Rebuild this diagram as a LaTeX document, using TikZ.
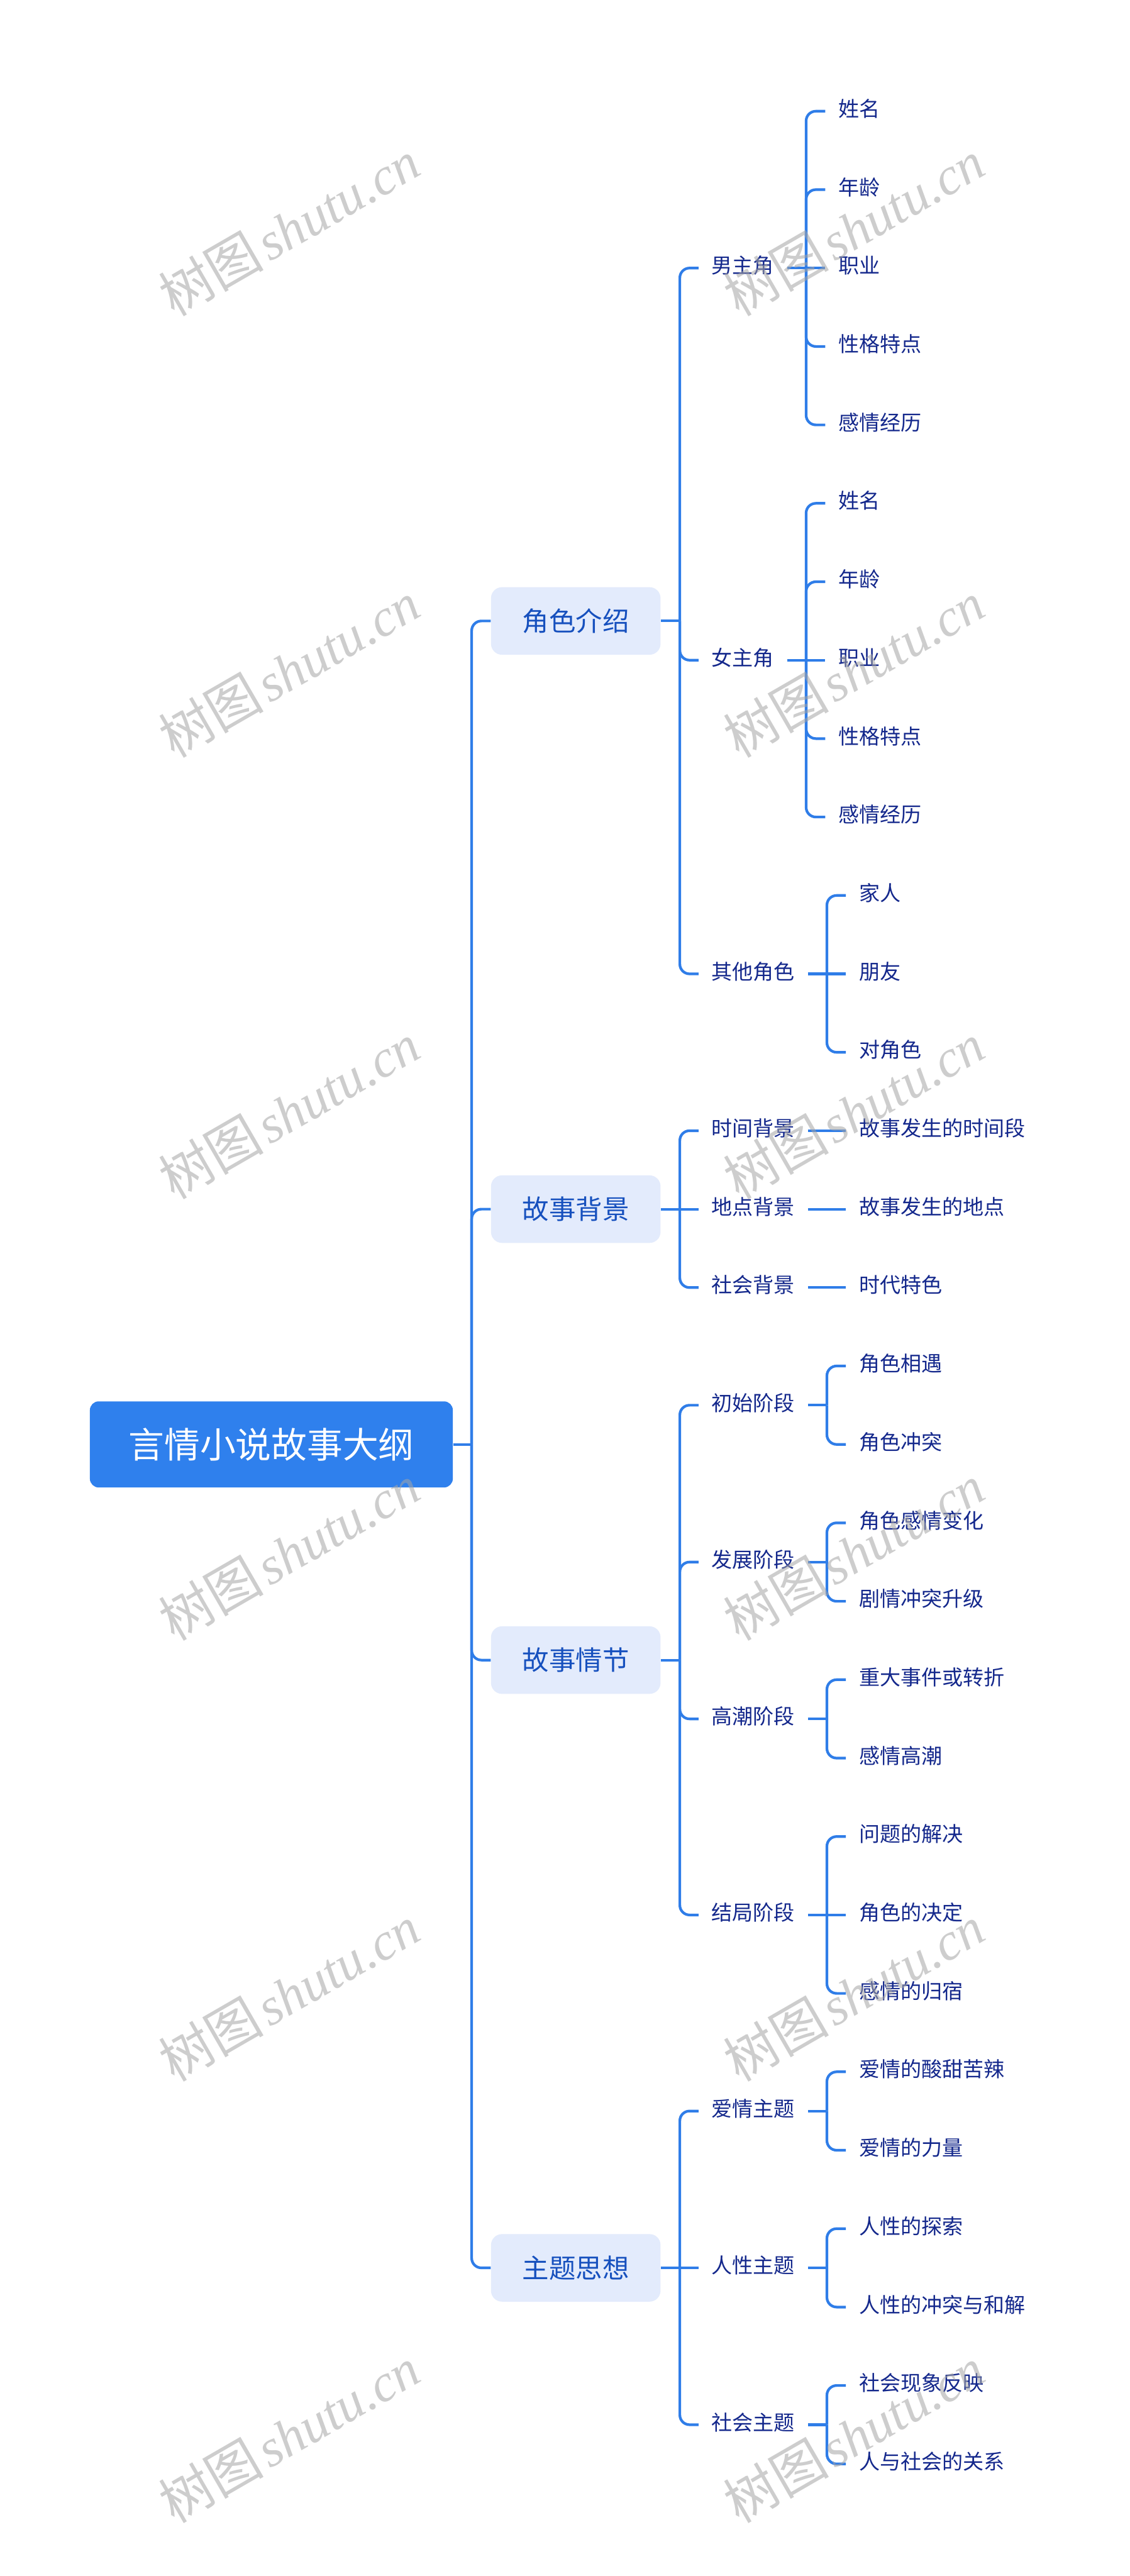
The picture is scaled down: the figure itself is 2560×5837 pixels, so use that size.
\documentclass[tikz,border=0pt]{standalone}
\usepackage{fontspec}
\newfontfamily\cjk{Noto Sans CJK SC}
\newfontfamily\wmlatin{Liberation Serif}
\definecolor{linec}{RGB}{47,125,232}
\definecolor{rootfill}{RGB}{47,128,237}
\definecolor{lonefill}{RGB}{227,235,252}
\definecolor{lonetext}{RGB}{22,80,190}
\definecolor{leaftext}{RGB}{20,40,140}
\definecolor{wmc}{RGB}{165,165,165}
\tikzset{
  conn/.style={draw=linec, line width=0.06cm, rounded corners=0.22cm},
  rootbox/.style={fill=rootfill, rounded corners=0.2cm, minimum width=8.22cm, minimum height=1.95cm,
    text=white, font=\cjk\fontsize{23}{23}\selectfont, anchor=west, inner sep=0pt},
  lonebox/.style={fill=lonefill, rounded corners=0.25cm, minimum width=3.84cm, minimum height=1.53cm,
    text=lonetext, font=\cjk\fontsize{17.2}{17.2}\selectfont, anchor=west, inner sep=0pt},
  txt/.style={text=leaftext, font=\cjk\fontsize{13.4}{13.4}\selectfont, inner xsep=0.29cm, inner ysep=0pt,
    text height=0.85em, text depth=0.15em, anchor=west},
  wm/.style={rotate=30, text=wmc, text opacity=0.55, inner sep=0pt}
}
\newcommand{\wmtext}{{\cjk\fontsize{34}{34}\selectfont 树图} {\wmlatin\itshape\fontsize{34}{34}\selectfont shutu.cn}}
\begin{document}
\begin{tikzpicture}[x=0.01cm,y=-0.01cm]
\useasboundingbox (0,0) rectangle (2560,5837);
\fill[white] (0,0) rectangle (2560,5837);

% root and level 1
\node[rootbox] (root) at (203,3272.9) {言情小说故事大纲};
\node[lonebox] (a) at (1112,1407.05) {角色介绍};
\node[lonebox] (b) at (1112,2739.8) {故事背景};
\node[lonebox] (c) at (1112,3761.6) {故事情节};
\node[lonebox] (d) at (1112,5138.75) {主题思想};

% level 2
\node[txt] (a1) at (1583,607.4) {男主角};
\node[txt] (a2) at (1583,1495.9) {女主角};
\node[txt] (a3) at (1583,2206.7) {其他角色};
\node[txt] (b1) at (1583,2562.1) {时间背景};
\node[txt] (b2) at (1583,2739.8) {地点背景};
\node[txt] (b3) at (1583,2917.5) {社会背景};
\node[txt] (c1) at (1583,3184.05) {初始阶段};
\node[txt] (c2) at (1583,3539.45) {发展阶段};
\node[txt] (c3) at (1583,3894.85) {高潮阶段};
\node[txt] (c4) at (1583,4339.1) {结局阶段};
\node[txt] (d1) at (1583,4783.35) {爱情主题};
\node[txt] (d2) at (1583,5138.75) {人性主题};
\node[txt] (d3) at (1583,5494.15) {社会主题};

% leaves
\node[txt] (a1x1) at (1870,252) {姓名};
\node[txt] (a1x2) at (1870,429.7) {年龄};
\node[txt] (a1x3) at (1870,607.4) {职业};
\node[txt] (a1x4) at (1870,785.1) {性格特点};
\node[txt] (a1x5) at (1870,962.8) {感情经历};
\node[txt] (a2x1) at (1870,1140.5) {姓名};
\node[txt] (a2x2) at (1870,1318.2) {年龄};
\node[txt] (a2x3) at (1870,1495.9) {职业};
\node[txt] (a2x4) at (1870,1673.6) {性格特点};
\node[txt] (a2x5) at (1870,1851.3) {感情经历};
\node[txt] (a3x1) at (1917,2029) {家人};
\node[txt] (a3x2) at (1917,2206.7) {朋友};
\node[txt] (a3x3) at (1917,2384.4) {对角色};
\node[txt] (b1x1) at (1917,2562.1) {故事发生的时间段};
\node[txt] (b2x1) at (1917,2739.8) {故事发生的地点};
\node[txt] (b3x1) at (1917,2917.5) {时代特色};
\node[txt] (c1x1) at (1917,3095.2) {角色相遇};
\node[txt] (c1x2) at (1917,3272.9) {角色冲突};
\node[txt] (c2x1) at (1917,3450.6) {角色感情变化};
\node[txt] (c2x2) at (1917,3628.3) {剧情冲突升级};
\node[txt] (c3x1) at (1917,3806) {重大事件或转折};
\node[txt] (c3x2) at (1917,3983.7) {感情高潮};
\node[txt] (c4x1) at (1917,4161.4) {问题的解决};
\node[txt] (c4x2) at (1917,4339.1) {角色的决定};
\node[txt] (c4x3) at (1917,4516.8) {感情的归宿};
\node[txt] (d1x1) at (1917,4694.5) {爱情的酸甜苦辣};
\node[txt] (d1x2) at (1917,4872.2) {爱情的力量};
\node[txt] (d2x1) at (1917,5049.9) {人性的探索};
\node[txt] (d2x2) at (1917,5227.6) {人性的冲突与和解};
\node[txt] (d3x1) at (1917,5405.3) {社会现象反映};
\node[txt] (d3x2) at (1917,5583) {人与社会的关系};

% connectors: root -> level 1
\draw[conn] (root.east) -- ++(42,0) coordinate (rootb);
\foreach \n in {a,b,c,d} \draw[conn] (rootb) |- (\n.west);

% level 1 -> level 2
\draw[conn] (a.east) -- ++(43,0) coordinate (ab);
\foreach \n in {a1,a2,a3} \draw[conn] (ab) |- (\n.west);
\draw[conn] (b.east) -- ++(43,0) coordinate (bb);
\foreach \n in {b1,b3} \draw[conn] (bb) |- (\n.west);
\draw[conn] (bb) -- (b2.west);
\draw[conn] (c.east) -- ++(43,0) coordinate (cb);
\foreach \n in {c1,c2,c3,c4} \draw[conn] (cb) |- (\n.west);
\draw[conn] (d.east) -- ++(43,0) coordinate (db);
\foreach \n in {d1,d3} \draw[conn] (db) |- (\n.west);
\draw[conn] (db) -- (d2.west);

% level 2 -> leaves
\draw[conn] (a1.east) -- ++(43,0) coordinate (a1b);
\foreach \n in {a1x1,a1x2,a1x4,a1x5} \draw[conn] (a1b) |- (\n.west);
\draw[conn] (a1b) -- (a1x3.west);
\draw[conn] (a2.east) -- ++(43,0) coordinate (a2b);
\foreach \n in {a2x1,a2x2,a2x4,a2x5} \draw[conn] (a2b) |- (\n.west);
\draw[conn] (a2b) -- (a2x3.west);
\draw[conn] (a3.east) -- ++(43,0) coordinate (a3b);
\foreach \n in {a3x1,a3x3} \draw[conn] (a3b) |- (\n.west);
\draw[conn] (a3b) -- (a3x2.west);
\draw[conn] (b1.east) -- (b1x1.west);
\draw[conn] (b2.east) -- (b2x1.west);
\draw[conn] (b3.east) -- (b3x1.west);
\draw[conn] (c1.east) -- ++(43,0) coordinate (c1b);
\foreach \n in {c1x1,c1x2} \draw[conn] (c1b) |- (\n.west);
\draw[conn] (c2.east) -- ++(43,0) coordinate (c2b);
\foreach \n in {c2x1,c2x2} \draw[conn] (c2b) |- (\n.west);
\draw[conn] (c3.east) -- ++(43,0) coordinate (c3b);
\foreach \n in {c3x1,c3x2} \draw[conn] (c3b) |- (\n.west);
\draw[conn] (c4.east) -- ++(43,0) coordinate (c4b);
\foreach \n in {c4x1,c4x3} \draw[conn] (c4b) |- (\n.west);
\draw[conn] (c4b) -- (c4x2.west);
\draw[conn] (d1.east) -- ++(43,0) coordinate (d1b);
\foreach \n in {d1x1,d1x2} \draw[conn] (d1b) |- (\n.west);
\draw[conn] (d2.east) -- ++(43,0) coordinate (d2b);
\foreach \n in {d2x1,d2x2} \draw[conn] (d2b) |- (\n.west);
\draw[conn] (d3.east) -- ++(43,0) coordinate (d3b);
\foreach \n in {d3x1,d3x2} \draw[conn] (d3b) |- (\n.west);

% watermarks
\foreach \k in {0,...,5} {
  \node[wm] (wl\k) at (655,517+1000*\k) {\wmtext};
  \node[wm] (wr\k) at (1935,517+1000*\k) {\wmtext};
}
\end{tikzpicture}
\end{document}
